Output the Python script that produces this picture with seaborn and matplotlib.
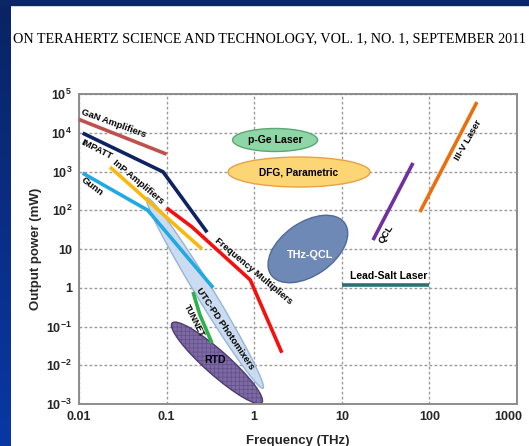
import numpy as np
import pandas as pd
import matplotlib
matplotlib.use("Agg")
import matplotlib.pyplot as plt
import seaborn as sns
from matplotlib.patches import Ellipse, Rectangle
from matplotlib.transforms import ScaledTranslation

# ---- source data (frequency in THz, output power in mW) ----
gan_f = [0.01, 0.1]
gan_p = [22000, 2800]
impatt_f = [0.011, 0.091, 0.29]
impatt_p = [9800, 980, 27]
inp_f = [0.0226, 0.254]
inp_p = [1300, 10]
gunn_f = [0.011, 0.061, 0.34]
gunn_p = [910, 100, 1.0]
mult_f = [0.1, 0.195, 0.9, 2.07]
mult_p = [115, 37, 1.6, 0.021]
tunnet_f = [0.2, 0.24, 0.33]
tunnet_p = [0.78, 0.2, 0.037]
qcl_f = [22.7, 65]
qcl_p = [17, 1660]
iiiv_f = [78, 349]
iiiv_p = [90, 62000]
leadsalt_f = [10, 100]
leadsalt_p = [1.18, 1.18]

# region centres (frequency THz, power mW)
utc_c = (0.274, 0.73)
rtd_c = (0.376, 0.0115)
thzqcl_c = (4.1, 10.0)
pge_c = (1.73, 6500)
dfg_c = (3.25, 970)

x_ticks = [0.01, 0.1, 1, 10, 100, 1000]
x_labels = ["0.01", "0.1", "1", "10", "100", "1000"]
y_ticks = [1e-3, 1e-2, 1e-1, 1, 10, 1e2, 1e3, 1e4, 1e5]
y_labels = [r"$\mathbf{10^{-3}}$", r"$\mathbf{10^{-2}}$", r"$\mathbf{10^{-1}}$", "1", "10",
            r"$\mathbf{10^{2}}$", r"$\mathbf{10^{3}}$", r"$\mathbf{10^{4}}$", r"$\mathbf{10^{5}}$"]

sns.set_theme(style="white")
plt.rcParams["font.family"] = ["Liberation Sans", "DejaVu Sans"]
plt.rcParams["mathtext.fontset"] = "custom"
plt.rcParams["mathtext.bf"] = "Liberation Sans:bold"
plt.rcParams["mathtext.rm"] = "Liberation Sans:bold"
plt.rcParams["hatch.linewidth"] = 0.5

W, H, DPI = 529, 446, 100
fig = plt.figure(figsize=(W / DPI, H / DPI), dpi=DPI)
fig.patch.set_facecolor("white")

# slide frame: blue strips on the left and along the top
grad = np.linspace(0, 1, 256).reshape(-1, 1)
frame_ax = fig.add_axes([0, 0, 11 / W, 1])
frame_ax.imshow(grad, aspect="auto", cmap=matplotlib.colors.LinearSegmentedColormap.from_list(
    "frame", ["#0a2463", "#0838a6"]), extent=[0, 1, 0, 1], origin="upper")
frame_ax.axis("off")
fig.patches.append(Rectangle((0, 1 - 5 / H), 1, 5 / H, transform=fig.transFigure,
                             color="#0b2665", zorder=5))

fig.text(13 / W, 1 - 42 / H,
         "ON TERAHERTZ SCIENCE AND TECHNOLOGY, VOL. 1, NO. 1, SEPTEMBER 2011",
         family="Liberation Serif", fontsize=10.15, va="baseline", ha="left", color="black")

ax = fig.add_axes([79 / W, (H - 404) / H, 438 / W, 310 / H])
ax.set_xscale("log")
ax.set_yscale("log")
ax.set_xlim(0.01, 1000)
ax.set_ylim(1e-3, 1e5)


def region(center, w_in, h_in, angle, z, **kw):
    tr = fig.dpi_scale_trans + ScaledTranslation(center[0], center[1], ax.transData)
    e = Ellipse((0, 0), w_in, h_in, angle=angle, transform=tr, zorder=z, **kw)
    ax.add_patch(e)
    return e


# device regions
region(pge_c, 0.85, 0.23, 0, 2, facecolor="#8fd6a6", edgecolor="#5aa873", lw=1)
region(dfg_c, 1.42, 0.30, 0, 2, facecolor="#fcd675", edgecolor="#e9a044", lw=1)
region(thzqcl_c, 0.90, 0.53, 35, 2, facecolor="#6f89b7", edgecolor="#51699a", lw=1)
region(rtd_c, 1.20, 0.24, -41.6, 2, facecolor="#7e6aa3", edgecolor="none")
region(rtd_c, 1.20, 0.24, -41.6, 2.1, facecolor="none", edgecolor="#62508a", lw=0, hatch="++++")
region(rtd_c, 1.20, 0.24, -41.6, 2.2, facecolor="none", edgecolor="#4d3d72", lw=1)
region(utc_c, 2.23, 0.17, -58.6, 2.5, facecolor="#c8d9ef", edgecolor="#8fb0d8", lw=1, alpha=0.92)

# source lines
series = [
    (gan_f, gan_p, "#c0504d"),
    (impatt_f, impatt_p, "#0d2461"),
    (inp_f, inp_p, "#f9b90c"),
    (gunn_f, gunn_p, "#21a9e1"),
    (mult_f, mult_p, "#f51010"),
    (tunnet_f, tunnet_p, "#2db24a"),
    (qcl_f, qcl_p, "#7030a0"),
    (iiiv_f, iiiv_p, "#e8700f"),
    (leadsalt_f, leadsalt_p, "#2e6f76"),
]
for f, p, c in series:
    df = pd.DataFrame({"f": f, "p": p})
    sns.lineplot(data=df, x="f", y="p", ax=ax, color=c, lw=2.6, sort=False,
                 estimator=None, zorder=3, solid_capstyle="butt")

# labels
labels = [
    ("GaN Amplifiers", 0.0251, 17900, -20, 6.8, "black"),
    ("IMPATT", 0.016, 3590, -27, 6.8, "black"),
    ("InP Amplifiers", 0.0472, 536, -40, 6.8, "black"),
    ("Gunn", 0.0141, 398, -37, 6.8, "black"),
    ("Frequency Multipliers", 0.97, 2.7, -40, 6.8, "black"),
    ("UTC-PD Photomixers", 0.464, 0.086, -56, 6.8, "black"),
    ("TUNNET", 0.206, 0.139, -63, 6.3, "black"),
    ("RTD", 0.357, 0.0136, 0, 7.6, "black"),
    ("QCL", 32, 24.4, 58, 6.8, "black"),
    ("III-V Laser", 275, 6500, 60, 6.8, "black"),
    ("Lead-Salt Laser", 34.6, 2.0, 0, 7.5, "black"),
    ("THz-QCL", 4.34, 7.0, 0, 7.8, "white"),
    ("p-Ge Laser", pge_c[0], pge_c[1], 0, 7.6, "black"),
    ("DFG, Parametric", dfg_c[0], dfg_c[1], 0, 7.3, "black"),
]
for txt, fx, py, rot, fs, col in labels:
    ax.text(fx, py, txt, rotation=rot, rotation_mode="anchor", ha="center", va="center",
            fontsize=fs, fontweight="bold", color=col, zorder=6)

ax.set_xticks(x_ticks)
ax.set_xticklabels(x_labels)
ax.set_yticks(y_ticks)
ax.set_yticklabels(y_labels)
ax.minorticks_off()
ax.tick_params(axis="both", length=0, labelsize=9, pad=5)
for lab in ax.get_xticklabels() + ax.get_yticklabels():
    lab.set_fontweight("bold")
# keep the last frequency label inside the figure edge
last = ax.get_xticklabels()[-1]
last.set_transform(last.get_transform() + ScaledTranslation(-9 / DPI, 0, fig.dpi_scale_trans))

ax.grid(True, color="#9a9a9a", lw=1, linestyle=(0, (2, 1.6)))
ax.set_axisbelow(True)
for s in ax.spines.values():
    s.set_color("#8c8c8c")
    s.set_linewidth(1.4)
ax.set_xlabel("Frequency (THz)", fontsize=9.5, fontweight="bold", labelpad=9)
ax.set_ylabel("Output power (mW)", fontsize=9.5, fontweight="bold", labelpad=3)

fig.savefig("out.png", dpi=DPI)
